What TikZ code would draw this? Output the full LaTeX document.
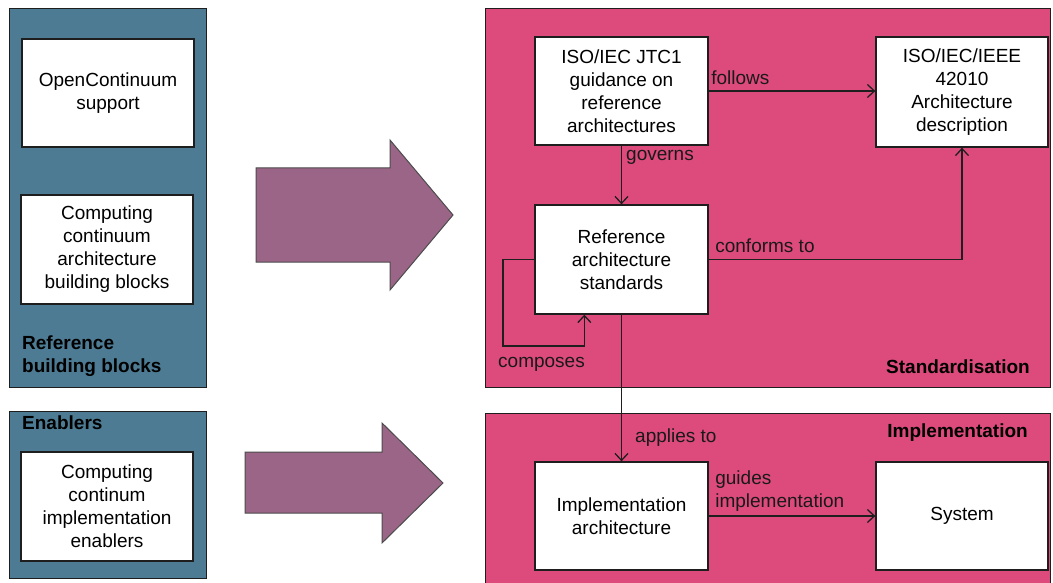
\documentclass[tikz,border=0pt]{standalone}
\usepackage{fontspec}
\setmainfont{Liberation Sans}
\usetikzlibrary{arrows.meta}
\definecolor{panelblue}{RGB}{76,123,147}
\definecolor{panelpink}{RGB}{221,75,124}
\definecolor{bigarrow}{RGB}{155,101,135}
\definecolor{edge}{RGB}{30,30,30}
\begin{document}
\begin{tikzpicture}[x=1pt,y=-1pt,
  every node/.style={font=\fontsize{19}{23}\selectfont},
  panel/.style={draw=edge, line width=1.3pt, anchor=north west, inner sep=0pt},
  wbox/.style={draw=edge, fill=white, line width=1.3pt, align=center, inner sep=2pt},
  conn/.style={draw=edge, line width=1.4pt, -{Straight Barb[length=7pt,width=13pt,line width=1.3pt]}},
  lbl/.style={text=black!90, inner sep=0pt},
  title/.style={font=\fontsize{19}{23}\selectfont\bfseries, text=black, align=left, inner sep=0pt},
  fat/.style={draw=edge!80, fill=bigarrow, line width=1pt, line join=miter}]
\useasboundingbox (0,0) rectangle (1053,583);
\clip (0,0) rectangle (1053,583);

% background panels
\node[panel, fill=panelblue, minimum width=197pt, minimum height=379pt] (refpanel) at (9,8) {};
\node[panel, fill=panelblue, minimum width=197pt, minimum height=167pt] (enpanel) at (9,411) {};
\node[panel, fill=panelpink, minimum width=565pt, minimum height=379pt] (stdpanel) at (485,8) {};
\node[panel, fill=panelpink, minimum width=565pt, minimum height=180pt] (implpanel) at (485,413) {};

% panel titles
\node[title, anchor=west] (reftitle) at (22,356) {Reference\\building blocks};
\node[title, anchor=west] (entitle) at (22,423) {Enablers};
\node[title, anchor=east] (stdtitle) at (1030,367) {Standardisation};
\node[title, anchor=east] (impltitle) at (1028,433) {Implementation};

% building blocks
\node[wbox, minimum width=172pt, minimum height=108pt] (oc) at (108,93) {OpenContinuum\\support};
\node[wbox, minimum width=172pt, minimum height=109pt] (ccab) at (107,249.5) {Computing\\continuum\\architecture\\building blocks};
\node[wbox, minimum width=172pt, minimum height=109pt] (ccie) at (107,506.5) {Computing\\continum\\implementation\\enablers};

% big transition arrows
\draw[fat] (256,168) -- (390,168) -- (390,140) -- (453,215) -- (390,290) -- (390,262) -- (256,262) -- cycle;
\draw[fat] (245,452) -- (382,452) -- (382,423) -- (443,483) -- (382,543) -- (382,513) -- (245,513) -- cycle;

% standardisation
\node[wbox, minimum width=173pt, minimum height=108pt] (jtc) at (621.5,91) {ISO/IEC JTC1\\guidance on\\reference\\architectures};
\node[wbox, minimum width=172pt, minimum height=110pt] (iso) at (962,92) {ISO/IEC/IEEE\\42010\\Architecture\\description};
\node[wbox, minimum width=173pt, minimum height=109pt] (ras) at (621.5,259.5) {Reference\\architecture\\standards};

% implementation
\node[wbox, minimum width=173pt, minimum height=108pt] (impl) at (621.5,516) {Implementation\\architecture};
\node[wbox, minimum width=172pt, minimum height=108pt] (sys) at (962,516) {System};

% relations
\draw[conn] (jtc.east) -- (jtc.east -| iso.west)
  node[lbl, pos=0, anchor=south west, xshift=2pt, yshift=6pt] {follows};
\draw[conn] (jtc.south) -- (ras.north)
  node[lbl, pos=0.2, anchor=west, xshift=4pt] {governs};
\draw[conn] (ras.east) -| (iso.south)
  node[lbl, pos=0, anchor=south west, xshift=6pt, yshift=6pt] {conforms to};
\coordinate (loop) at (503,346);
\draw[conn] (ras.west) -| (loop) -| ([xshift=50pt]ras.south west);
\node[lbl, anchor=west] (complbl) at (498,364) {composes};
\draw[conn] (ras.south) -- (impl.north)
  node[lbl, pos=0.84, anchor=west, xshift=13pt] {applies to};
\draw[conn] (impl.east) -- (sys.west)
  node[lbl, pos=0, anchor=south west, align=left, xshift=6pt, yshift=4pt] {guides\\implementation};
\end{tikzpicture}
\end{document}
